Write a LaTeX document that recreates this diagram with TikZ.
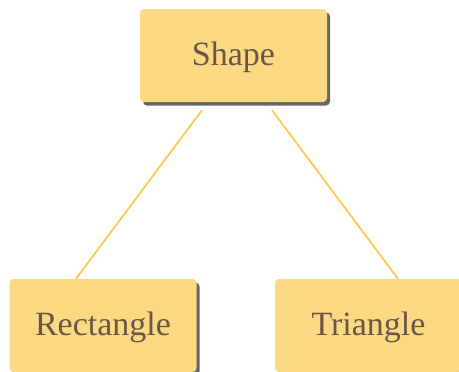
\documentclass[tikz,border=0pt]{standalone}
\usepackage{fontspec}
\setmainfont{Liberation Serif}
\usetikzlibrary{calc,shadows}
\definecolor{boxfill}{HTML}{FBD983}
\definecolor{boxtext}{HTML}{6B5646}
\definecolor{linkcol}{HTML}{FACB4C}
\tikzset{
  termbox/.style={rectangle, rounded corners=4pt, fill=boxfill, draw=none,
    minimum width=187pt, minimum height=93pt, inner sep=0pt,
    text height=24pt, text depth=5pt,
    text=boxtext, font=\fontsize{34}{40}\selectfont,
    drop shadow={shadow xshift=3pt, shadow yshift=-3.5pt, fill=black!70, opacity=0.85}},
  link/.style={draw=linkcol, line width=1.8pt}
}
\begin{document}
\begin{tikzpicture}[x=1pt,y=-1pt]
\useasboundingbox (0,0) rectangle (459,372);
\node[termbox] (shape) at (233.5,55.5) {Shape};
\node[termbox] (rect) at (103,325.5) {Rectangle};
\node[termbox] (tri) at (368.5,325.5) {Triangle};
\coordinate (l1) at ($(shape.south)+(-31.5,8)$);
\coordinate (l2) at ($(rect.north)+(-27,0)$);
\coordinate (r1) at ($(shape.south)+(38.5,8)$);
\coordinate (r2) at ($(tri.north)+(29.5,0)$);
\draw[link] (l1) -- (l2);
\draw[link] (r1) -- (r2);
\end{tikzpicture}
\end{document}
